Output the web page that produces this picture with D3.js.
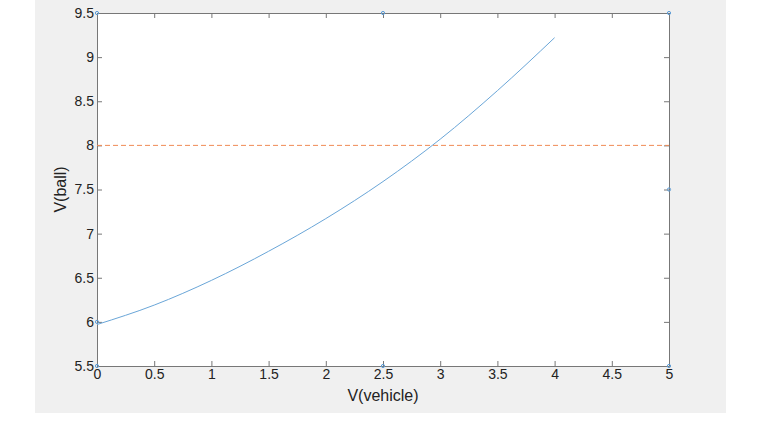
<!DOCTYPE html>
<html><head><meta charset="utf-8">
<script src="https://cdn.jsdelivr.net/npm/d3@7"></script>
<style>body{margin:0;background:#fff}text{font-family:"Liberation Sans",Arial,sans-serif}</style>
</head><body><svg id="c" width="765" height="428"></svg>
<script>
// curve values
var vVehicle = [0, 0.5, 1, 1.5, 2, 2.5, 3, 3.5, 4]
var vBall = [5.97, 6.19, 6.47, 6.8, 7.17, 7.59, 8.07, 8.62, 9.22]
var threshold = 8
var xTicks = [0, 0.5, 1, 1.5, 2, 2.5, 3, 3.5, 4, 4.5, 5]
var yTicks = [5.5, 6, 6.5, 7, 7.5, 8, 8.5, 9, 9.5]
var markers = [[0, 9.5], [2.5, 9.5], [5, 9.5], [5, 7.5], [5, 5.5], [2.5, 5.5], [0, 5.5], [0, 6]]

var margin = {top: 13, right: 96, bottom: 62, left: 97},
    width = 765 - margin.left - margin.right,
    height = 428 - margin.top - margin.bottom;

var svg = d3.select("#c")
svg.append("rect").attr("x", 35).attr("y", 0).attr("width", 691).attr("height", 413).attr("fill", "#f0f0f0")

var g = svg.append("g").attr("transform", "translate(" + margin.left + "," + margin.top + ")")
g.append("rect").attr("width", width).attr("height", height).attr("fill", "#fff")

var x = d3.scaleLinear().domain([0, 5]).range([0, width])
var y = d3.scaleLinear().domain([5.5, 9.5]).range([height, 0])

// axes with inward ticks on all sides
function style(a) {
    a.selectAll("path").attr("stroke", "#777")
    a.selectAll("line").attr("stroke", "#777")
    a.selectAll("text").attr("fill", "#222").style("font-size", "14px")
}
g.append("g").attr("transform", "translate(0," + height + ")")
    .call(d3.axisBottom(x).tickValues(xTicks).tickFormat(d3.format("")).tickSizeInner(-5).tickSizeOuter(0).tickPadding(3))
    .call(style)
g.append("g")
    .call(d3.axisLeft(y).tickValues(yTicks).tickFormat(d3.format("")).tickSizeInner(-5).tickSizeOuter(0).tickPadding(3))
    .call(style)
g.append("g")
    .call(d3.axisTop(x).tickValues(xTicks).tickFormat("").tickSizeInner(-5).tickSizeOuter(0))
    .call(style)
g.append("g").attr("transform", "translate(" + width + ",0)")
    .call(d3.axisRight(y).tickValues(yTicks).tickFormat("").tickSizeInner(-5).tickSizeOuter(0))
    .call(style)

// dashed threshold
g.append("line").attr("x1", x(0)).attr("x2", x(5)).attr("y1", y(threshold)).attr("y2", y(threshold))
    .attr("stroke", "#f08a55").attr("stroke-dasharray", "5,3").attr("stroke-width", 1)

var line = d3.line().x(function(d, i) { return x(vVehicle[i]) }).y(function(d) { return y(d) }).curve(d3.curveMonotoneX)
g.append("path").datum(vBall).attr("d", line).attr("fill", "none").attr("stroke", "#6aa6d8").attr("stroke-width", 1)

g.selectAll(".mk").data(markers).enter().append("circle")
    .attr("cx", function(d) { return x(d[0]) }).attr("cy", function(d) { return y(d[1]) })
    .attr("r", 1.6).attr("fill", "none").attr("stroke", "#5b9bd5")

svg.append("text").attr("x", margin.left + width / 2).attr("y", 401).attr("text-anchor", "middle")
    .style("font-size", "16px").attr("fill", "#222").text("V(vehicle)")
svg.append("text").attr("transform", "translate(66," + (margin.top + height / 2) + ") rotate(-90)")
    .attr("text-anchor", "middle").style("font-size", "16px").attr("fill", "#222").text("V(ball)")
</script></body></html>
